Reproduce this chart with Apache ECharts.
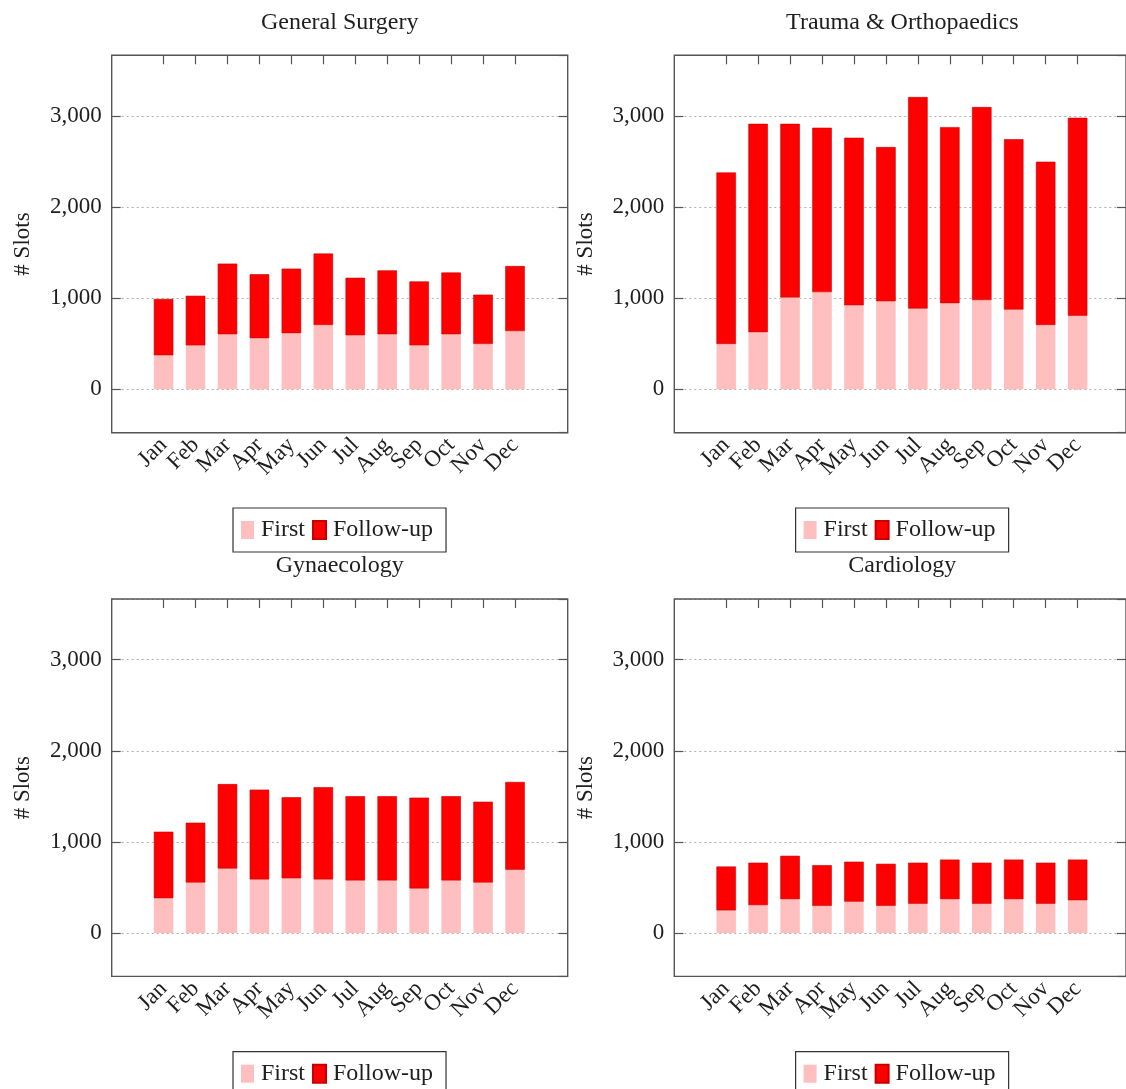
<!DOCTYPE html>
<html>
<head>
<meta charset="utf-8">
<title>Clinic slots by specialty</title>
<script src="https://cdn.jsdelivr.net/npm/echarts@6/dist/echarts.min.js"></script>
<style>
  html, body { margin: 0; padding: 0; background: #fff; }
  #chart { width: 1126px; height: 1089px; }
</style>
</head>
<body>
<div id="chart"></div>
<script>
// Months on the category axis
const months = ['Jan', 'Feb', 'Mar', 'Apr', 'May', 'Jun', 'Jul', 'Aug', 'Sep', 'Oct', 'Nov', 'Dec'];

// Specialty names (one panel each)
const specialties = ['General Surgery', 'Trauma & Orthopaedics', 'Gynaecology', 'Cardiology'];

// First-appointment slots per month
const surgeryFirst = [373, 482, 604, 561, 616, 706, 592, 604, 482, 604, 498, 639];
const traumaFirst = [498, 627, 1008, 1067, 922, 965, 886, 945, 980, 875, 706, 808];
const gynaeFirst = [382, 554, 707, 588, 600, 588, 577, 577, 489, 577, 554, 695];
const cardioFirst = [248, 306, 371, 298, 344, 298, 321, 371, 321, 371, 321, 359];

// Follow-up slots per month
const surgeryFollow = [619, 545, 776, 702, 709, 784, 632, 702, 702, 678, 541, 714];
const traumaFollow = [1882, 2287, 1906, 1804, 1839, 1694, 2322, 1933, 2118, 1870, 1792, 2172];
const gynaeFollow = [730, 657, 928, 986, 890, 1013, 925, 925, 997, 925, 887, 963];
const cardioFollow = [482, 466, 477, 447, 439, 462, 451, 435, 451, 435, 451, 447];

const firstSeries = [surgeryFirst, traumaFirst, gynaeFirst, cardioFirst];
const followSeries = [surgeryFollow, traumaFollow, gynaeFollow, cardioFollow];

// Shared value range of every panel
const Y_MIN = -476;
const Y_MAX = 3666;

const FONT = '"Liberation Serif", "DejaVu Serif", serif';
const TEXT = '#1e1e1e';
const FRAME = '#555';
const FIRST_COLOR = '#ffbfbf';
const FOLLOW_COLOR = '#ff0000';

// Panel frames (left, top) and sizes
const panelPos = [[111.7, 55.3], [674.3, 55.3], [111.7, 599.0], [674.3, 599.0]];
const FRAME_W = 456;
const FRAME_H = 377.4;
const INNER_OFF = 35.9;
const INNER_W = 383.4;

function thousands(v) {
  if (Math.abs(v) < 1e-6) return '0';
  return String(Math.round(v)).replace(/\B(?=(\d{3})+(?!\d))/g, ',');
}

const grid = [], xAxis = [], yAxis = [], series = [], title = [], legend = [];

panelPos.forEach(([fl, ft], p) => {
  const outer = grid.length;
  // Frame drawn above the grid lines so the edges stay solid
  grid.push({ left: fl, top: ft, width: FRAME_W, height: FRAME_H, show: true, z: 3,
    borderColor: FRAME, borderWidth: 1.4, backgroundColor: 'transparent', containLabel: false });
  const inner = grid.length;
  grid.push({ left: fl + INNER_OFF, top: ft, width: INNER_W, height: FRAME_H, containLabel: false });

  // Outer frame: hidden x, value axis with labels on the left, ticks on the right
  xAxis.push({ gridIndex: outer, type: 'value', min: 0, max: 1, show: false });
  yAxis.push({
    gridIndex: outer, type: 'value', position: 'left', min: Y_MIN, max: Y_MAX, splitNumber: 4,
    name: '# Slots', nameLocation: 'middle', nameGap: 77,
    nameTextStyle: { fontFamily: FONT, fontSize: 23, color: TEXT },
    axisLine: { show: false },
    axisTick: { show: true, inside: true, length: 9, lineStyle: { color: FRAME, width: 1.2 } },
    axisLabel: { showMinLabel: false, showMaxLabel: false, margin: 10, fontFamily: FONT, fontSize: 23,
      color: TEXT, formatter: thousands },
    splitLine: { show: true, lineStyle: { type: [2, 3], color: '#b0b0b0', width: 1 } }
  });
  yAxis.push({
    gridIndex: outer, type: 'value', position: 'right', min: Y_MIN, max: Y_MAX, splitNumber: 4,
    axisLine: { show: false },
    axisTick: { show: true, inside: true, length: 9, lineStyle: { color: FRAME, width: 1.2 } },
    axisLabel: { show: false }, splitLine: { show: false }
  });

  // Inner plotting area: month categories, bottom labels, ticks top and bottom
  const ix = xAxis.length;
  xAxis.push({
    gridIndex: inner, type: 'category', data: months, position: 'bottom',
    axisLine: { show: false },
    axisTick: { show: true, inside: true, length: 9, alignWithLabel: true, lineStyle: { color: FRAME, width: 1.2 } },
    axisLabel: { rotate: 45, margin: 9, interval: 0, fontFamily: FONT, fontSize: 23, color: TEXT }
  });
  xAxis.push({
    gridIndex: inner, type: 'category', data: months, position: 'top',
    axisLine: { show: false },
    axisTick: { show: true, inside: true, length: 9, alignWithLabel: true, lineStyle: { color: FRAME, width: 1.2 } },
    axisLabel: { show: false }
  });
  const iy = yAxis.length;
  yAxis.push({ gridIndex: inner, type: 'value', min: Y_MIN, max: Y_MAX, show: false, splitLine: { show: false } });

  const stack = 'panel' + p;
  series.push({
    name: 'First', type: 'bar', stack, xAxisIndex: ix, yAxisIndex: iy, barWidth: 19.5,
    itemStyle: { color: FIRST_COLOR }, data: firstSeries[p]
  });
  series.push({
    name: 'Follow-up', type: 'bar', stack, xAxisIndex: ix, yAxisIndex: iy, barWidth: 19.5,
    itemStyle: { color: FOLLOW_COLOR, borderColor: '#c40000', borderWidth: 0.6 }, data: followSeries[p]
  });

  title.push({
    text: specialties[p], left: fl + FRAME_W / 2, top: ft - 45, textAlign: 'center', padding: 0,
    textStyle: { fontFamily: FONT, fontSize: 24, fontWeight: 'normal', color: TEXT }
  });

  legend.push({
    data: ['First', 'Follow-up'], left: fl + 121.3, top: ft + 452.7,
    orient: 'horizontal', icon: 'rect', itemWidth: 13, itemHeight: 18, itemGap: 7,
    padding: [10, 13, 10, 8], borderColor: '#333', borderWidth: 1.2, borderRadius: 0,
    textStyle: { fontFamily: FONT, fontSize: 24, color: TEXT, padding: [0, 0, 0, 2] }
  });
});

const chart = echarts.init(document.getElementById('chart'), null, { renderer: 'canvas' });
chart.setOption({
  animation: false,
  backgroundColor: '#fff',
  title, legend, grid, xAxis, yAxis, series
});
</script>
</body>
</html>
